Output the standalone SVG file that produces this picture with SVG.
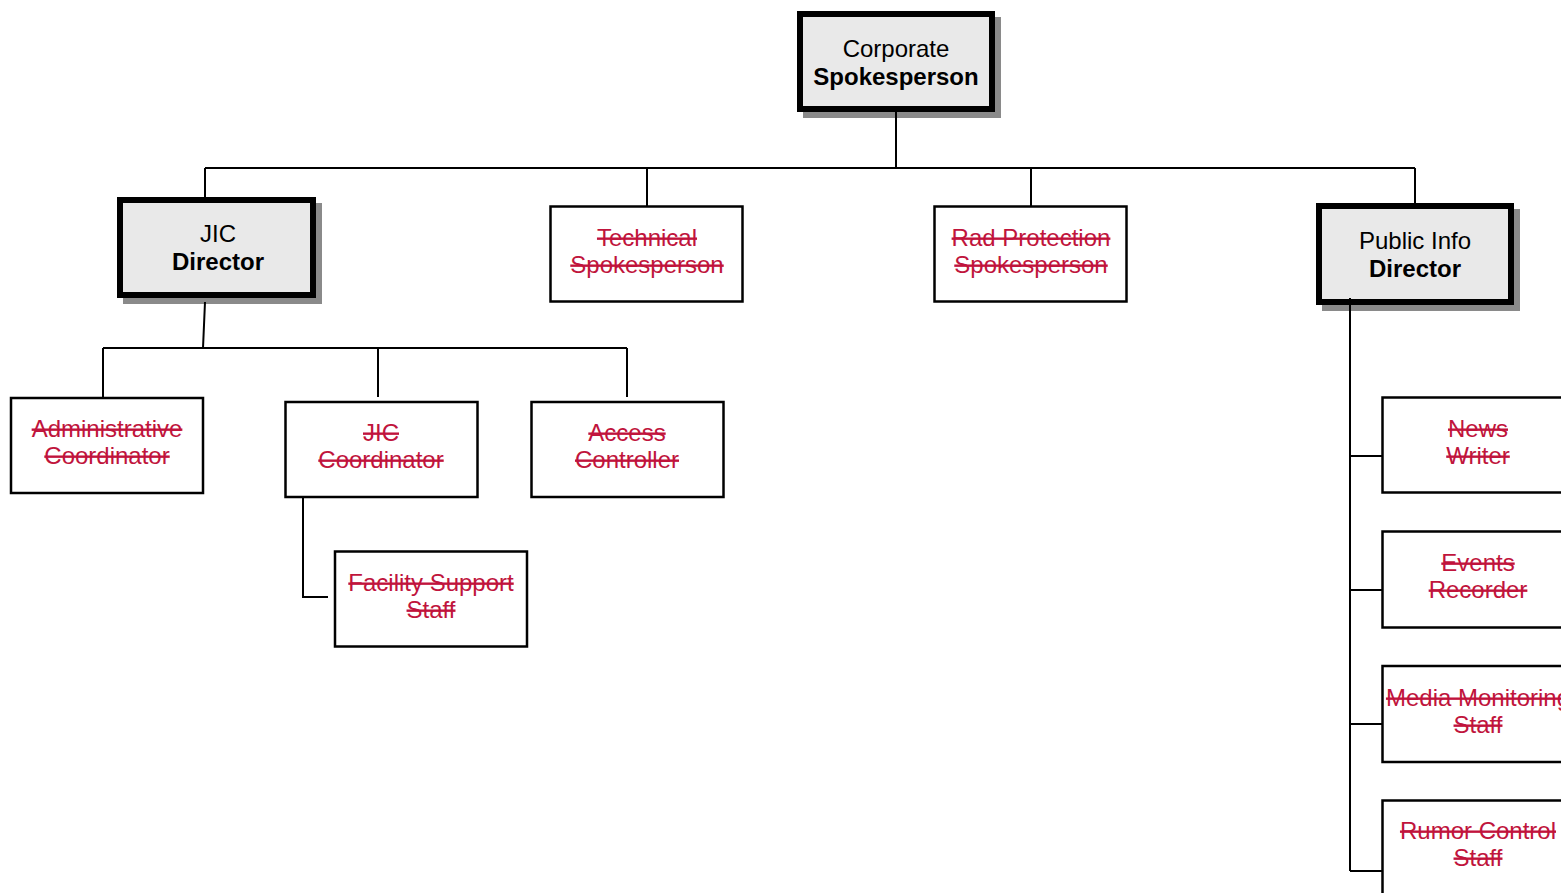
<svg xmlns="http://www.w3.org/2000/svg" width="1561" height="893" viewBox="0 0 1561 893">
<style>
.t{font-family:"Liberation Sans",Arial,sans-serif;font-size:24px;text-anchor:middle}
.k{fill:#000}
.b{font-weight:bold}
.r{fill:#c0143c;text-decoration:line-through}
.main{fill:#e9e9e9;stroke:#000;stroke-width:6}
.sh{fill:#8a8a8a}
.box{fill:#fff;stroke:#000;stroke-width:2.5}
.c{stroke:#000;stroke-width:2;fill:none}
</style>
<rect width="1561" height="893" fill="#fff"/>
<g id="corporate">
<rect class="sh" x="803" y="17" width="198" height="101"/>
<rect class="main" x="800" y="14" width="192" height="95"/>
<text class="t k" x="896" y="57">Corporate</text>
<text class="t k b" x="896" y="85">Spokesperson</text>
</g>
<g id="jic-director">
<rect class="sh" x="123" y="203" width="199" height="101"/>
<rect class="main" x="120" y="200" width="193" height="95"/>
<text class="t k" x="218" y="242">JIC</text>
<text class="t k b" x="218" y="270">Director</text>
</g>
<g id="technical">
<rect class="box" x="550.5" y="206.5" width="192" height="95"/>
<text class="t r" x="647" y="246">Technical</text>
<text class="t r" x="647" y="273">Spokesperson</text>
</g>
<g id="rad">
<rect class="box" x="934.5" y="206.5" width="192" height="95"/>
<text class="t r" x="1031" y="246">Rad Protection</text>
<text class="t r" x="1031" y="273">Spokesperson</text>
</g>
<g id="public-info">
<rect class="sh" x="1322" y="209" width="198" height="102"/>
<rect class="main" x="1319" y="206" width="192" height="96"/>
<text class="t k" x="1415" y="249">Public Info</text>
<text class="t k b" x="1415" y="277">Director</text>
</g>
<g id="admin">
<rect class="box" x="11" y="398" width="192" height="95"/>
<text class="t r" x="107" y="437">Administrative</text>
<text class="t r" x="107" y="464">Coordinator</text>
</g>
<g id="jic-coord">
<rect class="box" x="285.5" y="402" width="192" height="95"/>
<text class="t r" x="381" y="441">JIC</text>
<text class="t r" x="381" y="468">Coordinator</text>
</g>
<g id="access">
<rect class="box" x="531.5" y="402" width="192" height="95"/>
<text class="t r" x="627" y="441">Access</text>
<text class="t r" x="627" y="468">Controller</text>
</g>
<g id="facility">
<rect class="box" x="335" y="551.5" width="192" height="95"/>
<text class="t r" x="431" y="591">Facility Support</text>
<text class="t r" x="431" y="618">Staff</text>
</g>
<g id="news">
<rect class="box" x="1382.5" y="397.5" width="193" height="95"/>
<text class="t r" x="1478" y="437">News</text>
<text class="t r" x="1478" y="464">Writer</text>
</g>
<g id="events">
<rect class="box" x="1382.5" y="531.5" width="193" height="96"/>
<text class="t r" x="1478" y="571">Events</text>
<text class="t r" x="1478" y="598">Recorder</text>
</g>
<g id="media">
<rect class="box" x="1382.5" y="666" width="193" height="96"/>
<text class="t r" x="1478" y="706">Media Monitoring</text>
<text class="t r" x="1478" y="733">Staff</text>
</g>
<g id="rumor">
<rect class="box" x="1382.5" y="800.5" width="193" height="96"/>
<text class="t r" x="1478" y="839">Rumor Control</text>
<text class="t r" x="1478" y="866">Staff</text>
</g>
<g id="connectors">
<path class="c" d="M896 112V168M205 168H1415M205 168V197M647 168V206M1031 168V206M1415 168V203"/>
<path class="c" d="M205 302L203 348M103 348H627M103 348V398M378 348V397M627 348V397"/>
<path class="c" d="M303 497V597H328"/>
<path class="c" d="M1350 298V871M1350 456H1382M1350 590H1382M1350 724H1382M1350 871H1382"/>
</g>
</svg>
